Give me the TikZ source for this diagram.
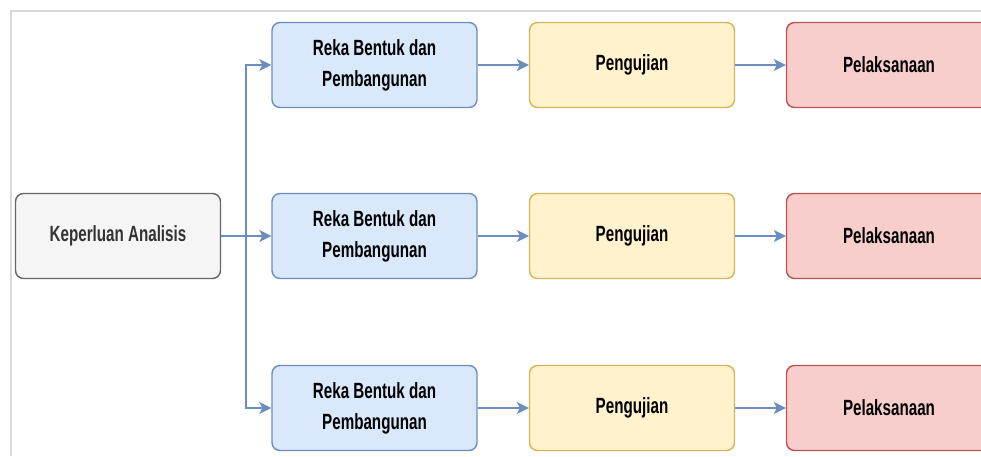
\documentclass[tikz,border=0pt]{standalone}
\usepackage{fontspec}
\setmainfont{Liberation Sans}[FakeStretch=0.69]
\usepackage{xcolor}
\usepackage{tikz}
\usetikzlibrary{positioning}
\usetikzlibrary{arrows.meta}
\definecolor{blueFill}{HTML}{DAE8FC}
\definecolor{blueLine}{HTML}{6C8EBF}
\definecolor{yellowFill}{HTML}{FFF2CC}
\definecolor{yellowLine}{HTML}{D6B656}
\definecolor{redFill}{HTML}{F8CECC}
\definecolor{redLine}{HTML}{B85450}
\definecolor{grayFill}{HTML}{F5F5F5}
\definecolor{grayLine}{HTML}{666666}
\definecolor{frameLine}{HTML}{D9D9D9}

\tikzset{
	box/.style={rounded corners=8pt, line width=1.4pt, minimum width=205pt, minimum height=85pt, inner sep=0pt, align=center, font=\fontsize{22}{31}\selectfont\bfseries},
	graybox/.style={box, draw=grayLine, fill=grayFill, text=black!80},
	bluebox/.style={box, draw=blueLine, fill=blueFill},
	yellowbox/.style={box, draw=yellowLine, fill=yellowFill},
	redbox/.style={box, draw=redLine, fill=redFill},
	flow/.style={line width=1.4pt, draw=blueLine, -{Stealth[length=12pt,width=12pt,inset=3pt]}}
}

\begin{document}
\begin{tikzpicture}[x=1pt,y=-1pt]
	\clip (0,0) rectangle (981,456);
	\fill[white] (0,0) rectangle (981,456);
	\draw[frameLine, line width=1.5pt] (11,456) -- (11,11) -- (981,11);
	
	\node[graybox] (analisis) at (118,236) {Keperluan Analisis};
	\coordinate (split) at (246,236);
	
	\foreach \r/\y in {A/65,B/236,C/408} {
		\node[bluebox] (reka\r) at (374.5,\y) {Reka Bentuk dan\\Pembangunan};
		\node[yellowbox] (uji\r) at (632,\y) {Pengujian};
		\node[redbox] (laksana\r) at (889,\y) {Pelaksanaan};
		\draw[flow] (reka\r) -- (uji\r);
		\draw[flow] (uji\r) -- (laksana\r);
	}
	
	\draw[flow] (analisis) -- (rekaB);
	\draw[flow] (split) |- (rekaA.west);
	\draw[flow] (split) |- (rekaC.west);
\end{tikzpicture}
\end{document}
